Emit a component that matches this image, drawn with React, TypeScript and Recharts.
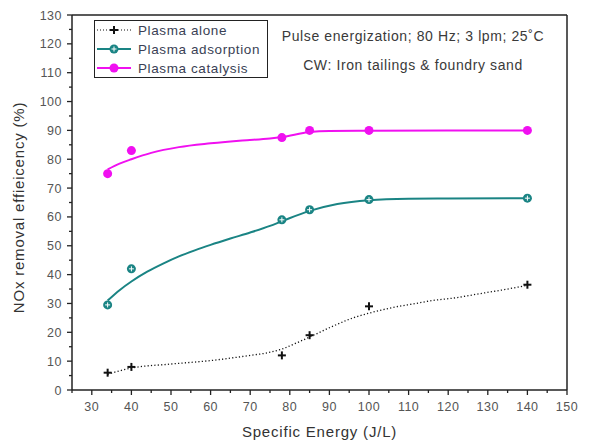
import React from 'react';
import {
  ComposedChart, Line, Scatter, XAxis, YAxis, ReferenceLine
} from 'recharts';

// measured points
const energy = [34, 40, 78, 85, 100, 140];
const aloneVals = [6, 8, 12, 19, 29, 36.5];
const adsorptionVals = [29.5, 42, 59, 62.5, 66, 66.5];
const catalysisVals = [75, 83, 87.5, 90, 90, 90];

// fitted curves
const aloneFitX = [34, 40, 50, 60, 70, 74, 78, 82, 86, 91, 96, 101, 106, 111, 116, 122, 128, 135, 140];
const aloneFitY = [5.5, 7.6, 9, 10.2, 12, 12.8, 14.2, 16.5, 19, 22.2, 25, 27, 28.6, 29.8, 31, 32, 33.4, 35, 36.3];
const adsorptionFitX = [34, 37, 40, 44, 48, 52, 56, 60, 65, 70, 75, 78, 85, 92, 100, 110, 120, 140];
const adsorptionFitY = [31, 34.6, 37.6, 41, 43.8, 46.3, 48.4, 50.3, 52.5, 54.6, 56.9, 58.5, 62.1, 64.5, 65.8, 66.3, 66.4, 66.5];
const catalysisFitX = [34, 37, 40, 45, 52, 60, 68, 75, 78, 85, 90, 100, 120, 140];
const catalysisFitY = [76.5, 78.5, 80, 82.2, 84.2, 85.5, 86.5, 87.2, 87.7, 89.4, 89.8, 89.9, 90, 90];

const xTicks = [25, 30, 35, 40, 45, 50, 55, 60, 65, 70, 75, 80, 85, 90, 95, 100, 105, 110, 115, 120, 125, 130, 135, 140, 145, 150];
const yTicks = [0, 5, 10, 15, 20, 25, 30, 35, 40, 45, 50, 55, 60, 65, 70, 75, 80, 85, 90, 95, 100, 105, 110, 115, 120, 125, 130];

const seriesNames = ['Plasma alone', 'Plasma adsorption', 'Plasma catalysis'];
const noteLines = ['Pulse energization; 80 Hz; 3 lpm; 25\u02DAC', 'CW: Iron tailings & foundry sand'];

const MAGENTA = '#f010f0';
const TEAL = '#1a8484';
const AXIS = '#222';
const FONT = '"Liberation Sans", Arial, sans-serif';

const pts = (ys: number[]) => energy.map((x, i) => ({ x, y: ys[i] }));
const fit = (xs: number[], ys: number[]) => xs.map((x, i) => ({ x, y: ys[i] }));

const XTick = (props: any) => {
  const { x, y, payload } = props;
  const v = payload.value;
  const major = v % 10 === 0 || v === 150;
  return (
    <g>
      <line x1={x} x2={x} y1={y} y2={y + (major ? 5 : 3)} stroke={AXIS} strokeWidth={1.3} />
      {v % 10 === 0 && (
        <text x={x} y={y + 21} textAnchor="middle" fontSize={12.5} letterSpacing={0.5} fill="#555" fontFamily={FONT}>{v}</text>
      )}
    </g>
  );
};

const YTick = (props: any) => {
  const { x, y, payload } = props;
  const v = payload.value;
  const major = v % 10 === 0;
  return (
    <g>
      <line x1={x} x2={x - (major ? 5 : 3)} y1={y} y2={y} stroke={AXIS} strokeWidth={1.3} />
      {major && (
        <text x={x - 10} y={y + 4.5} textAnchor="end" fontSize={12.5} letterSpacing={0.5} fill="#555" fontFamily={FONT}>{v}</text>
      )}
    </g>
  );
};

const Cross = (p: any) => (
  <g>
    <line x1={p.cx - 4} x2={p.cx + 4} y1={p.cy} y2={p.cy} stroke="#111" strokeWidth={2} />
    <line x1={p.cx} x2={p.cx} y1={p.cy - 4} y2={p.cy + 4} stroke="#111" strokeWidth={2} />
  </g>
);

const TealDot = (p: any) => (
  <g>
    <circle cx={p.cx} cy={p.cy} r={4.5} fill={TEAL} />
    <line x1={p.cx - 2.5} x2={p.cx + 2.5} y1={p.cy} y2={p.cy} stroke="#fff" strokeWidth={1} />
    <line x1={p.cx} x2={p.cx} y1={p.cy - 2.5} y2={p.cy + 2.5} stroke="#fff" strokeWidth={1} />
  </g>
);

const MagentaDot = (p: any) => <circle cx={p.cx} cy={p.cy} r={4.5} fill={MAGENTA} />;

function LegendBox() {
  const samples = [
    <g key="a"><line x1={0} x2={34} y1={6} y2={6} stroke="#111" strokeWidth={1.2} strokeDasharray="1 2" /><Cross cx={17} cy={6} /></g>,
    <g key="b"><line x1={0} x2={34} y1={6} y2={6} stroke={TEAL} strokeWidth={2} /><TealDot cx={17} cy={6} /></g>,
    <g key="c"><line x1={0} x2={34} y1={6} y2={6} stroke={MAGENTA} strokeWidth={2} /><MagentaDot cx={17} cy={6} /></g>,
  ];
  return (
    <div style={{
      position: 'absolute', left: 94, top: 20, width: 172, height: 56,
      border: `1.5px solid ${AXIS}`, background: '#fff', fontFamily: FONT
    }}>
      {seriesNames.map((n, i) => (
        <div key={n} style={{ position: 'absolute', left: 2, top: 2 + i * 19, height: 14, display: 'flex', alignItems: 'center' }}>
          <svg width={36} height={12} style={{ overflow: 'visible' }}>{samples[i]}</svg>
          <span style={{ marginLeft: 5, fontSize: 13.5, letterSpacing: 0.6, color: '#3a3f55', whiteSpace: 'nowrap' }}>{n}</span>
        </div>
      ))}
    </div>
  );
}

export default function App() {
  return (
    <div style={{ position: 'absolute', left: 0, top: 0, width: 589, height: 447, background: '#fff' }}>
      <ComposedChart width={589} height={447} margin={{ top: 15, right: 22, left: 0, bottom: 0 }}>
        <XAxis
          dataKey="x" type="number" domain={[25, 150]} ticks={xTicks} interval={0}
          height={57} tickSize={0} tickMargin={0} tickLine={false} tick={<XTick />}
          axisLine={{ stroke: AXIS, strokeWidth: 1.5 }} allowDataOverflow
          label={{ value: 'Specific Energy (J/L)', position: 'insideBottom', offset: 10, fontSize: 15, fill: '#333', fontFamily: FONT, letterSpacing: 0.8 }}
        />
        <YAxis
          type="number" domain={[0, 130]} ticks={yTicks} interval={0}
          width={72} tickSize={0} tickMargin={0} tickLine={false} tick={<YTick />}
          axisLine={{ stroke: AXIS, strokeWidth: 1.5 }} allowDataOverflow
          label={{ value: 'NOx removal effieicency (%)', angle: -90, position: 'insideLeft', offset: 19, dy: 5, fontSize: 15, fill: '#333', fontFamily: FONT, letterSpacing: 0.8, style: { textAnchor: 'middle' } }}
        />
        <ReferenceLine y={130} stroke={AXIS} strokeWidth={1.5} />
        <ReferenceLine x={150} stroke={AXIS} strokeWidth={1.5} />
        <Line data={fit(aloneFitX, aloneFitY)} dataKey="y" type="monotone" stroke="#111" strokeWidth={1.3} strokeDasharray="1.2 2.2" dot={false} isAnimationActive={false} />
        <Line data={fit(adsorptionFitX, adsorptionFitY)} dataKey="y" type="monotone" stroke={TEAL} strokeWidth={2} dot={false} isAnimationActive={false} />
        <Line data={fit(catalysisFitX, catalysisFitY)} dataKey="y" type="monotone" stroke={MAGENTA} strokeWidth={2} dot={false} isAnimationActive={false} />
        <Scatter data={pts(aloneVals)} dataKey="y" shape={<Cross />} isAnimationActive={false} />
        <Scatter data={pts(adsorptionVals)} dataKey="y" shape={<TealDot />} isAnimationActive={false} />
        <Scatter data={pts(catalysisVals)} dataKey="y" shape={<MagentaDot />} isAnimationActive={false} />
      </ComposedChart>
      <LegendBox />
      {noteLines.map((t, i) => (
        <div key={t} style={{
          position: 'absolute', left: 270, width: 286, top: 28 + i * 29, textAlign: 'center',
          fontFamily: FONT, fontSize: 14, letterSpacing: 0.6, color: '#3a3a3a', whiteSpace: 'nowrap'
        }}>{t}</div>
      ))}
    </div>
  );
}
